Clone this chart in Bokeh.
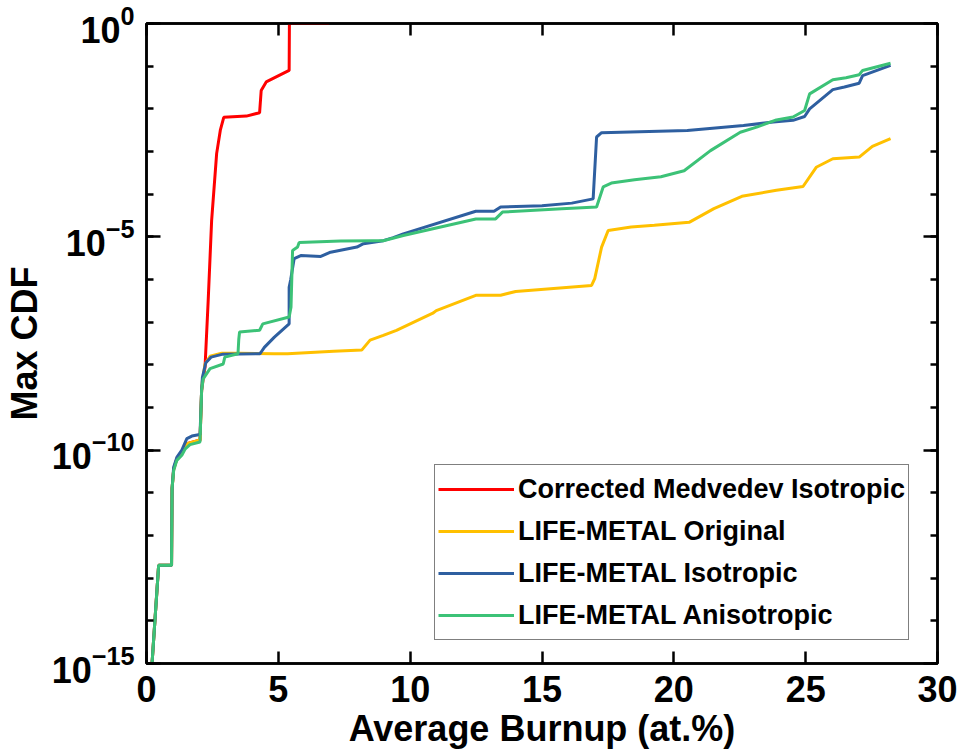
import numpy as np
from bokeh.plotting import figure
from bokeh.models import (LogAxis, LinearAxis, FixedTicker, Legend, LegendItem,
                          ColumnDataSource, Range1d, CustomJSTickFormatter)
from bokeh.embed import file_html
from bokeh.resources import INLINE

# ---------------- data ----------------
# y values given as log10(Max CDF)
red_x = [0.21, 0.46, 0.95, 0.97, 1.03, 1.15, 1.34, 1.53, 1.97, 2.03, 2.09, 2.15,
         2.22, 2.34, 2.47, 2.66, 2.80, 2.93, 3.79, 4.29, 4.35, 4.54, 5.41, 5.42, 6.92]
red_log = [-15.0, -12.70, -12.70, -10.9, -10.45, -10.2, -10.05, -9.85, -9.77, -9.77, -8.6, -8.33,
           -8.05, -6.49, -4.62, -3.05, -2.5, -2.2, -2.17, -2.09, -1.57, -1.37, -1.10, 0.0, 0.0]

yellow_x = [0.21, 0.46, 0.95, 0.97, 1.03, 1.15, 1.34, 1.53, 1.97, 2.03, 2.09, 2.12, 2.22,
            2.41, 2.85, 3.53, 4.85, 5.35, 7.1, 8.17, 8.48, 8.98, 9.48, 10.86, 10.99, 12.49,
            13.43, 14.0, 16.88, 17.0, 17.26, 17.51, 18.38, 19.26, 20.58, 21.52, 22.58,
            23.89, 24.9, 25.4, 26.03, 27.03, 27.53, 28.22]
yellow_log = [-15.0, -12.70, -12.70, -10.9, -10.45, -10.2, -10.05, -9.85, -9.77, -9.77, -8.6, -8.37, -7.98,
              -7.80, -7.73, -7.73, -7.74, -7.74, -7.68, -7.65, -7.42, -7.31, -7.19, -6.79, -6.73, -6.37,
              -6.37, -6.28, -6.14, -5.98, -5.24, -4.85, -4.77, -4.73, -4.66, -4.34, -4.05,
              -3.91, -3.82, -3.37, -3.17, -3.13, -2.88, -2.70]

blue_x = [0.21, 0.46, 0.95, 0.97, 1.03, 1.15, 1.34, 1.53, 1.72, 1.97, 2.03, 2.09, 2.12, 2.25,
          2.45, 2.9, 4.30, 4.35, 4.47, 4.85, 5.41, 5.41, 5.47, 5.60, 5.85, 6.61, 6.98, 7.98,
          8.23, 8.98, 9.36, 9.74, 12.49, 13.18, 13.43, 15.0, 16.13, 16.94, 17.07, 17.26,
          20.51, 22.64, 23.77, 24.52, 24.96, 25.15, 26.03, 26.47, 27.03, 27.16, 28.22]
blue_log = [-15.0, -12.70, -12.70, -10.9, -10.40, -10.17, -10.0, -9.73, -9.67, -9.64, -9.64, -8.6, -8.3, -7.95,
            -7.82, -7.75, -7.74, -7.70, -7.59, -7.35, -7.04, -6.18, -6.0, -5.51, -5.44, -5.46, -5.36, -5.24,
            -5.16, -5.09, -5.02, -4.93, -4.40, -4.40, -4.30, -4.27, -4.21, -4.11, -2.66, -2.56,
            -2.51, -2.39, -2.31, -2.27, -2.18, -2.0, -1.55, -1.49, -1.40, -1.22, -0.98]

green_x = [0.21, 0.46, 0.95, 0.97, 1.03, 1.15, 1.34, 1.47, 1.65, 2.03, 2.09, 2.15, 2.41, 2.91,
           2.97, 3.47, 3.50, 3.53, 4.29, 4.41, 5.41, 5.48, 5.54, 5.73, 5.79, 7.36, 8.61, 8.98,
           9.74, 12.49, 13.24, 13.5, 15.75, 17.07, 17.32, 17.63, 18.51, 19.51, 20.39, 21.39,
           22.52, 23.14, 23.89, 24.52, 24.96, 25.15, 26.03, 26.53, 27.03, 27.16, 28.22]
green_log = [-15.0, -12.70, -12.70, -10.9, -10.48, -10.24, -10.12, -9.97, -9.87, -9.81, -8.6, -8.33, -8.09, -7.98,
             -7.82, -7.74, -7.40, -7.23, -7.19, -7.04, -6.88, -6.65, -5.32, -5.24, -5.13, -5.10, -5.09, -5.09,
             -4.97, -4.58, -4.58, -4.42, -4.34, -4.30, -3.83, -3.74, -3.66, -3.59, -3.45, -2.98,
             -2.55, -2.43, -2.26, -2.19, -2.04, -1.65, -1.32, -1.27, -1.20, -1.10, -0.93]

series_names = ["Corrected Medvedev Isotropic", "LIFE-METAL Original",
                "LIFE-METAL Isotropic", "LIFE-METAL Anisotropic"]
series_colors = ["#FF0000", "#FFC000", "#2E5FA0", "#3CC277"]

x_ticks = [0, 5, 10, 15, 20, 25, 30]
y_major_exp = [-15, -10, -5, 0]
y_minor_exp = list(range(-15, 1))

FONT = "Liberation Sans"

# ---------------- figure ----------------
p = figure(width=958, height=752, x_range=Range1d(0, 30), y_range=Range1d(1e-15, 1),
           y_axis_type="log", output_backend="svg", toolbar_location=None,
           min_border_left=141, min_border_right=21, min_border_top=23, min_border_bottom=89)
p.xgrid.visible = False
p.ygrid.visible = False
p.outline_line_color = "black"
p.outline_line_width = 2.5
p.background_fill_color = "white"
p.border_fill_color = "white"

y_major = [10.0 ** e for e in y_major_exp]
y_minor = [10.0 ** e for e in y_minor_exp]

xa = p.xaxis[0]
xa.ticker = FixedTicker(ticks=x_ticks)
ya = p.yaxis[0]
ya.ticker = FixedTicker(ticks=y_major, minor_ticks=y_minor)

for ax in (xa, ya):
    ax.axis_line_width = 2.5
    ax.major_tick_line_width = 2.5
    ax.minor_tick_line_width = 2.5
    ax.major_tick_out = 0
    ax.minor_tick_out = 0
    ax.major_label_text_font = FONT
    ax.major_label_text_font_style = "bold"
    ax.major_label_text_font_size = "36px"
    ax.major_label_text_color = "black"
    ax.axis_label_text_font = FONT
    ax.axis_label_text_font_style = "bold"
    ax.axis_label_text_font_size = "36px"
    ax.axis_label_text_color = "black"

xa.major_tick_in = 12
xa.minor_tick_in = 0
xa.major_label_standoff = 12
xa.axis_label = "Average Burnup (at.%)"
xa.axis_label_standoff = 3

ya.major_tick_in = 14
ya.minor_tick_in = 7
ya.major_label_standoff = 12
ya.axis_label = "Max CDF"
ya.axis_label_standoff = 4

blank = CustomJSTickFormatter(code="return ''")
top = LinearAxis(ticker=FixedTicker(ticks=x_ticks), formatter=blank,
                 major_tick_in=12, major_tick_out=0, minor_tick_in=0, minor_tick_out=0,
                 major_label_text_font_size="8px", major_label_standoff=0,
                 axis_line_width=2.5, major_tick_line_width=2.5)
p.add_layout(top, "above")
right = LogAxis(ticker=FixedTicker(ticks=y_major, minor_ticks=y_minor),
                formatter=CustomJSTickFormatter(code="return ''"),
                major_tick_in=14, major_tick_out=0, minor_tick_in=7, minor_tick_out=0,
                major_label_text_font_size="8px", major_label_standoff=0,
                axis_line_width=2.5, major_tick_line_width=2.5, minor_tick_line_width=2.5)
p.add_layout(right, "right")

xs = [red_x, yellow_x, blue_x, green_x]
logs = [red_log, yellow_log, blue_log, green_log]
items = []
for name, color, xv, lv in zip(series_names, series_colors, xs, logs):
    src = ColumnDataSource(dict(x=xv, y=np.power(10.0, np.array(lv))))
    r = p.line("x", "y", source=src, line_color=color, line_width=3)
    items.append(LegendItem(label=name, renderers=[r]))

legend = Legend(items=items, location=(288, 23), border_line_color="black",
                border_line_width=1.5, label_text_font=FONT, label_text_font_style="bold",
                label_text_font_size="27px", label_text_color="black",
                glyph_width=76, glyph_height=42, label_height=42, label_standoff=4,
                padding=3, spacing=0, margin=0, background_fill_alpha=1)
p.add_layout(legend)

open("out.html", "w").write(file_html(p, INLINE))
